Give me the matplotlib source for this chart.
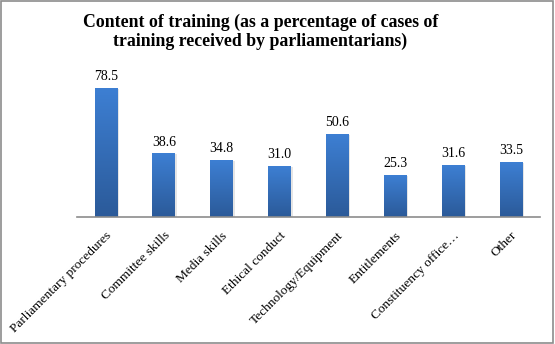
import numpy as np
import matplotlib.pyplot as plt
from matplotlib.colors import LinearSegmentedColormap
from matplotlib.patches import Rectangle

categories = ["Parliamentary procedures", "Committee skills", "Media skills",
              "Ethical conduct", "Technology/Equipment", "Entitlements",
              "Constituency office\u2026", "Other"]
values = [78.5, 38.6, 34.8, 31.0, 50.6, 25.3, 31.6, 33.5]

plt.rcParams['font.family'] = ['Liberation Serif', 'DejaVu Serif']

fig = plt.figure(figsize=(5.55, 3.44), dpi=100)
ax = fig.add_axes([0.1387, 0.369, 0.834, 0.428])

# blue gradient: light at the top, darker at the bottom
cmap = LinearSegmentedColormap.from_list("bar", ["#2b5a99", "#3d7fd3"])
grad = np.linspace(0, 1, 256).reshape(-1, 1)
width = 0.39
x = np.arange(len(categories))
bars = ax.bar(x, values, width=width, color="none", edgecolor="none")
for b, v in zip(bars, values):
    x0 = b.get_x()
    # faint shadow on the right edge
    ax.add_patch(Rectangle((x0 + 0.03, 0), width, v - 0.3, color="#000000",
                           alpha=0.10, zorder=1, linewidth=0))
    ax.imshow(grad, cmap=cmap, aspect="auto", origin="lower",
              extent=(x0, x0 + width, 0, v), zorder=2)
    ax.text(b.get_x() + width / 2, v + 3.2, f"{v:.1f}", ha="center",
            va="bottom", fontsize=10)

ax.set_xlim(-0.5, len(categories) - 0.5)
ax.set_ylim(0, 90)
ax.set_yticks([])
ax.set_xticks(x)
ax.set_xticklabels(categories, rotation=45, ha="right", rotation_mode="anchor",
                   fontsize=9.6)
ax.tick_params(axis="x", length=0, pad=9)
for s in ["top", "right", "left"]:
    ax.spines[s].set_visible(False)
ax.spines["bottom"].set_color("#8c8c8c")
ax.spines["bottom"].set_linewidth(1.2)

fig.text(0.469, 0.907, "Content of training (as a percentage of cases of\n"
         "training received by parliamentarians)", ha="center", va="center",
         fontsize=12.8, fontweight="bold", linespacing=1.15)

fig.patches.append(Rectangle((0.002, 0.003), 0.995, 0.993, transform=fig.transFigure,
                             fill=False, edgecolor="#8c8c8c", linewidth=1.2))

fig.savefig("out.png", dpi=100)
